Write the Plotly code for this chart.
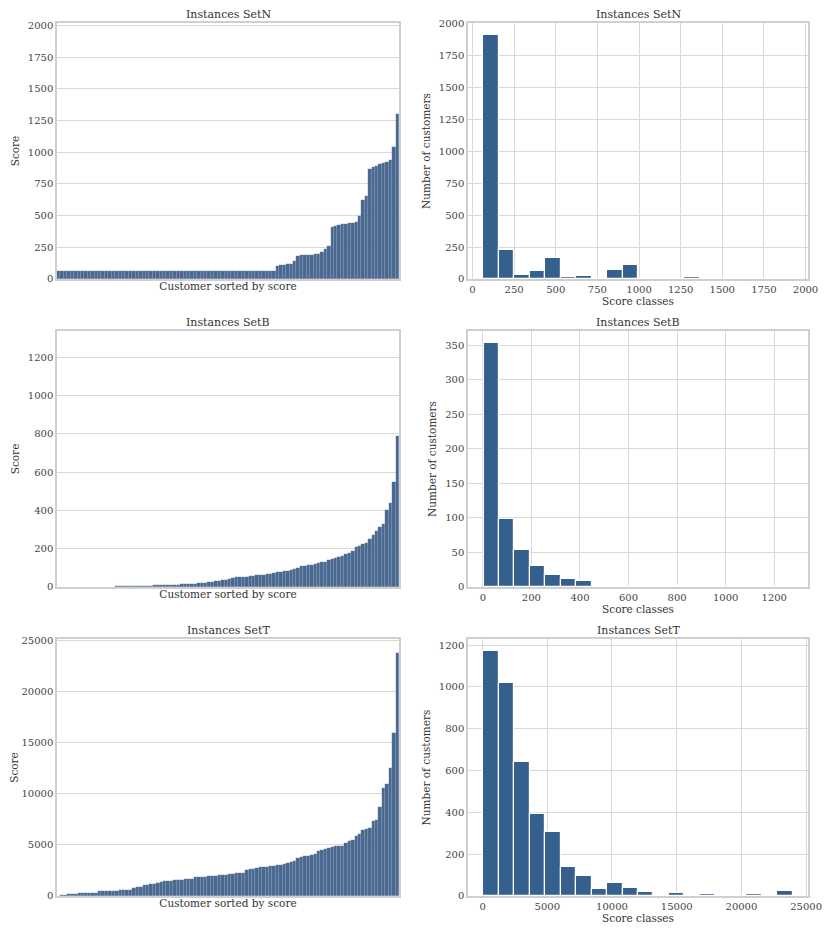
import numpy as np
import plotly.graph_objects as go
from plotly.subplots import make_subplots

# scores per customer, sorted, one value per percentile of customers
setn_sorted = [
    62, 62, 62, 62, 62, 62, 62, 62, 62, 62, 62, 62, 62, 62, 62, 62,
    62, 62, 62, 62, 62, 62, 62, 62, 62, 62, 62, 62, 62, 62, 62, 62,
    62, 62, 62, 62, 62, 62, 62, 62, 62, 62, 62, 62, 62, 62, 62, 62,
    62, 62, 62, 62, 62, 62, 62, 62, 62, 62, 62, 62, 62, 62, 62, 62,
    105, 108, 112, 116, 122,
    145, 185, 188, 190, 191, 193, 196, 200, 210,
    240, 262,
    410, 420, 428, 432, 436, 440, 444, 450,
    500, 620, 655,
    865, 880, 892, 905, 915, 925, 938,
    1040, 1300,
]
setb_sorted = [
    0, 0, 0, 0, 0, 0, 0, 0, 0, 1,
    1, 1, 1, 1, 2, 2, 2, 3, 3, 3,
    4, 4, 5, 5, 6, 6, 7, 7, 8, 8,
    9, 9, 10, 11, 12, 12, 13, 14, 15, 16,
    18, 20, 21, 23, 25, 28, 30, 33, 35, 38,
    42, 45, 50, 52, 53, 54, 56, 58, 60, 62,
    64, 67, 70, 73, 77, 80, 83, 86, 90, 95,
    100, 110, 112, 114, 117, 120, 123, 128, 133, 140,
    145, 150, 155, 162, 170, 180, 190, 210, 215, 222,
    230, 250, 270, 295, 315, 330, 400, 440, 550, 790,
]
sett_sorted = [
    20, 60, 110, 160, 190, 220, 250, 270, 290, 300,
    310, 330, 450, 460, 470, 480, 500, 520, 540, 560,
    580, 620, 830, 850, 880, 1100, 1120, 1150, 1180, 1230,
    1400, 1430, 1460, 1500, 1530, 1560, 1600, 1630, 1660, 1700,
    1850, 1870, 1880, 1900, 1950, 1980, 2000, 2030, 2060, 2080,
    2110, 2150, 2250, 2280, 2300, 2550, 2600, 2650, 2700, 2800,
    2840, 2880, 2920, 2960, 3000, 3040, 3100, 3200, 3300, 3450,
    3750, 3820, 3880, 3950, 4020, 4100, 4400, 4500, 4600, 4700,
    4800, 4850, 4880, 4920, 5200, 5350, 5450, 5850, 6050, 6500,
    6600, 6700, 7300, 7450, 8700, 10600, 11000, 12500, 16000, 23800,
]

# histogram: 20 classes between min and max score, counts per class
setn_range = (66, 1922)
setn_counts = [1910, 230, 34, 60, 165, 13, 24, 0, 73, 112,
               2, 0, 0, 16, 0, 0, 0, 0, 0, 1]
setb_range = (3, 1275)
setb_counts = [353, 99, 53, 31, 17, 11, 8, 0, 2, 0,
               0, 0, 2, 0, 0, 0, 0, 0, 0, 1]
sett_range = (70, 23950)
sett_counts = [1170, 1019, 639, 393, 308, 137, 96, 35, 61, 37,
               19, 0, 14, 0, 10, 0, 0, 8, 0, 24]

set_names = ["Instances SetN", "Instances SetB", "Instances SetT"]

FONT = "DejaVu Serif"
BAR_LEFT = "#496890"
BAR_HIST = "#355f8d"
GRID = "#d9d9d9"
FRAME = "#cfcfcf"

panels = [
    (setn_sorted, setn_range, setn_counts, 2020, 250, 2005, 250, [-27, 2015], 250),
    (setb_sorted, setb_range, setb_counts, 1338, 200, 371, 50, [-61, 1339], 200),
    (sett_sorted, sett_range, sett_counts, 25150, 5000, 1229, 200, [-1124, 25144], 5000),
]

fig = make_subplots(rows=3, cols=2)

left_dom = [0.0, 0.4554]
right_dom = [0.5473, 1.0]
row_dom = [[0.7068, 1.0], [0.3540, 0.6472], [0.0, 0.2944]]

axis_common = dict(
    showline=True, mirror=True, linecolor=FRAME, linewidth=1.5,
    gridcolor=GRID, gridwidth=1, zeroline=False,
    tickfont=dict(family=FONT, size=10, color="#444"),
    title_font=dict(family=FONT, size=10.5, color="#333"),
    ticks="", tickformat="d", automargin=False,
)

for r, (sorted_vals, (lo, hi), counts, ymax_l, dy_l, ymax_h, dy_h, xr_h, dx_h) in enumerate(panels, start=1):
    n = len(sorted_vals)
    fig.add_trace(
        go.Bar(
            x=list(range(n)),
            y=sorted_vals,
            marker=dict(color=BAR_LEFT, line=dict(width=0.4, color="rgba(255,255,255,0.2)")),
            showlegend=False,
        ),
        row=r, col=1,
    )
    edges = np.linspace(lo, hi, len(counts) + 1)
    centers = (edges[:-1] + edges[1:]) / 2
    fig.add_trace(
        go.Bar(
            x=centers,
            y=counts,
            width=edges[1] - edges[0],
            marker=dict(color=BAR_HIST, line=dict(width=1.2, color="white")),
            showlegend=False,
        ),
        row=r, col=2,
    )

    fig.update_xaxes(
        axis_common, domain=left_dom, range=[-0.5, n - 0.5], showgrid=False,
        showticklabels=False, title_text="Customer sorted by score", title_standoff=3,
        row=r, col=1,
    )
    fig.update_yaxes(
        axis_common, domain=row_dom[r - 1], range=[0, ymax_l], dtick=dy_l,
        title_text="Score", title_standoff=6, row=r, col=1,
    )
    fig.update_xaxes(
        axis_common, domain=right_dom, range=xr_h, dtick=dx_h, tick0=0,
        title_text="Score classes", title_standoff=2, row=r, col=2,
    )
    fig.update_yaxes(
        axis_common, domain=row_dom[r - 1], range=[0, ymax_h], dtick=dy_h,
        title_text="Number of customers", title_standoff=6, row=r, col=2,
    )

    for c in (1, 2):
        idx = (r - 1) * 2 + c
        suffix = "" if idx == 1 else str(idx)
        fig.add_annotation(
            text=set_names[r - 1], xref=f"x{suffix} domain", yref=f"y{suffix} domain",
            x=0.5, y=1, yanchor="bottom", yshift=1, borderpad=0, showarrow=False,
            font=dict(family=FONT, size=11, color="#333"),
        )

# the page body adds an 8px offset, so the margins are reduced to compensate
fig.update_layout(
    width=831, height=932,
    margin=dict(l=49, r=31, t=15, b=44),
    paper_bgcolor="white", plot_bgcolor="white",
    bargap=0,
    font=dict(family=FONT, color="#333"),
)

fig.write_html("out.html")
